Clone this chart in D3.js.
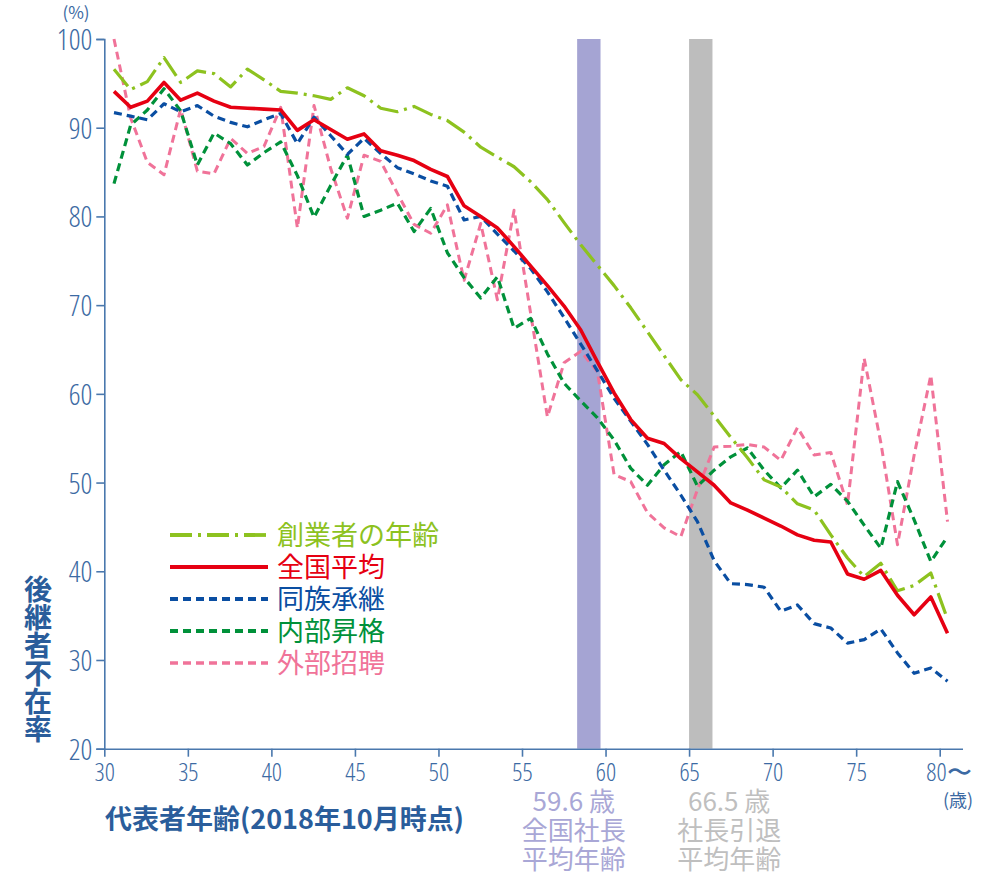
<!DOCTYPE html>
<html><head><meta charset="utf-8">
<script src="https://cdn.jsdelivr.net/npm/d3@7"></script>
<style>
html,body{margin:0;padding:0;background:#fff;}
svg{display:block;}
.num{font-family:"Open Sans","Liberation Sans Narrow",sans-serif;font-stretch:87%;font-weight:300;}
.cjk{font-family:"Noto Sans CJK JP","Noto Sans",sans-serif;}
</style></head>
<body>
<svg id="chart" width="1000" height="876"></svg>
<script>
// ---- data ----
const ages = [30,31,32,33,34,35,36,37,38,39,40,41,42,43,44,45,46,47,48,49,50,
  51,52,53,54,55,56,57,58,59,60,61,62,63,64,65,66,67,68,69,70,71,72,73,74,75,76,77,78,79,80];
const xTicks = [30,35,40,45,50,55,60,65,70,75,80];
const yTicks = [20,30,40,50,60,70,80,90,100];
const seriesNames = ["外部招聘","内部昇格","同族承継","創業者の年齢","全国平均"];
const founder = [96.6,94.3,95.2,97.9,95.1,96.4,96.1,94.6,96.6,95.4,94.1,93.9,93.6,93.2,94.5,93.6,92.2,91.8,92.4,91.5,90.8,
  89.5,87.8,86.7,85.6,83.9,81.9,79.3,76.8,74.5,72.2,69.7,67.0,64.3,61.6,59.9,57.5,55.1,52.8,50.3,49.5,
  47.6,46.9,44.1,41.5,39.4,40.9,37.8,38.4,39.8,34.6];
const national = [94.1,92.3,93.0,95.1,93.1,93.9,93.0,92.3,92.2,92.1,92.0,89.7,90.9,89.8,88.7,89.3,87.4,86.9,86.3,85.3,84.5,
  81.2,80.0,78.7,76.6,74.4,72.2,69.9,67.2,63.6,60.1,57.1,55.0,54.4,52.7,51.2,49.7,47.7,46.9,46.0,45.1,
  44.1,43.5,43.3,39.7,39.1,40.1,37.3,35.1,37.1,33.0];
const family = [91.7,91.3,90.9,92.7,91.8,92.5,91.3,90.6,90.1,90.9,91.6,88.2,91.2,89.1,87.0,88.8,87.1,85.5,84.8,84.0,83.4,
  79.6,80.0,78.0,76.1,74.1,71.5,68.6,65.6,62.6,59.5,56.9,54.3,51.4,48.6,45.6,41.2,38.6,38.5,38.2,35.5,
  36.2,34.1,33.6,31.9,32.3,33.5,30.8,28.5,29.1,27.6];
const internal = [83.7,90.3,92.0,94.4,91.9,85.8,89.4,88.2,85.8,87.2,88.4,84.6,79.9,83.5,86.9,80.0,80.7,81.5,78.3,80.9,75.9,
  73.1,70.8,73.2,67.4,68.5,64.5,61.2,59.2,57.3,54.8,51.6,49.7,52.0,53.5,49.6,51.4,52.9,53.9,51.4,49.4,
  51.4,48.4,49.8,47.9,45.2,42.6,50.1,45.8,41.1,43.9];
const external = [100,91.1,86.1,84.7,92.1,85.1,84.8,88.8,87.1,87.9,92.3,78.7,92.5,85.4,79.8,86.9,86.2,82.6,79.1,78.1,81.3,
  72.8,79.2,70.6,80.7,69.0,57.4,63.5,64.8,62.5,50.9,50.1,46.6,44.9,43.9,49.2,54.0,54.1,54.3,54.0,52.5,
  56.2,53.1,53.4,47.5,64.0,54.5,43.0,53.1,62.1,45.6];
const bandRanges = [[58.3,59.7],[65.0,66.4]];
const bandLabels = [["59.6 歳","全国社長","平均年齢"],["66.5 歳","社長引退","平均年齢"]];
const bandLabelAt = [58.1,67.4];
const legendOrder = ["創業者の年齢","全国平均","同族承継","内部昇格","外部招聘"];

// ---- styles ----
const style = {
  "創業者の年齢": {color:"#8dc21f", w:3.2, dash:"22,6,3,6"},
  "全国平均":     {color:"#e60012", w:3.6, dash:null},
  "同族承継":     {color:"#0a4ea2", w:3.2, dash:"8,5"},
  "内部昇格":     {color:"#00913a", w:3.2, dash:"8,5"},
  "外部招聘":     {color:"#f07399", w:3.0, dash:"8,5"}
};
const values = {"創業者の年齢":founder,"全国平均":national,"同族承継":family,"内部昇格":internal,"外部招聘":external};
const axisColor = "#4a78ad", labelColor = "#3c6aa3", titleColor = "#2a5d9b";
const bandColors = ["#a5a4d3","#bdbdbd"], bandTextColors = ["#a9a7d6","#bfbfbf"];

const svg = d3.select("#chart");
const x = d3.scaleLinear().domain([30,80]).range([104.3,939.7]);
const xp = d3.scalePoint().domain(ages).range([114,947.5]);
const y = d3.scaleLinear().domain([20,100]).range([748.7,39]);

// bands
svg.append("g").selectAll("rect").data(bandRanges).join("rect")
  .attr("x", d=>x(d[0])).attr("width", d=>x(d[1])-x(d[0]))
  .attr("y", y(100)).attr("height", y(20)-y(100))
  .attr("fill", (d,i)=>bandColors[i]);

// axes
const yAxis = svg.append("g").attr("transform",`translate(${x(30)},0)`)
  .call(d3.axisLeft(y).tickValues(yTicks).tickSize(8).tickPadding(4).tickFormat(d3.format("d")));
const xAxis = svg.append("g").attr("transform",`translate(0,${y(20)})`)
  .call(d3.axisBottom(x).tickValues(xTicks).tickSize(8).tickPadding(7).tickFormat(d=>d===80?"80〜":d));
[yAxis,xAxis].forEach(g=>{
  g.attr("font-family",null).attr("font-size",null);
  g.select(".domain").attr("stroke",axisColor).attr("stroke-width",1.6);
  g.selectAll(".tick line").attr("stroke",axisColor).attr("stroke-width",1.6);
  g.selectAll("text").attr("fill",labelColor).attr("class","num");
});
xAxis.select(".domain").attr("d",`M${x(30)},0.5H963`);
yAxis.selectAll("text").attr("font-size",29).attr("dy","0.36em");
xAxis.selectAll("text").attr("font-size",25);
xAxis.selectAll(".tick").filter(d=>d===80).select("text").attr("text-anchor","start").attr("x",-14);

// lines
const line = d3.line().x((d,i)=>xp(ages[i])).y(d=>y(d));
seriesNames.forEach(n=>{
  svg.append("path").datum(values[n]).attr("d",line)
    .attr("fill","none").attr("stroke",style[n].color).attr("stroke-width",style[n].w)
    .attr("stroke-linejoin","round")
    .attr("stroke-dasharray",style[n].dash);
});

// legend
const lg = svg.append("g");
legendOrder.forEach((n,i)=>{
  const ly = 535 + i*32;
  lg.append("line").attr("x1",170).attr("x2",268).attr("y1",ly).attr("y2",ly)
    .attr("stroke",style[n].color).attr("stroke-width",style[n].w+0.6).attr("stroke-dasharray",style[n].dash);
  lg.append("text").attr("class","cjk").attr("x",277).attr("y",ly).attr("dy","0.36em")
    .attr("font-size",27).attr("fill",style[n].color).text(n);
});

// titles
svg.append("text").attr("class","cjk").attr("x",76).attr("y",19).attr("text-anchor","middle")
  .attr("font-size",17).attr("fill",labelColor).text("(%)");
svg.append("text").attr("class","cjk").attr("x",38).attr("y",575)
  .attr("font-size",28).attr("font-weight","bold").attr("fill",titleColor)
  .style("writing-mode","vertical-rl").style("text-orientation","upright")
  .text("後継者不在率");
svg.append("text").attr("class","cjk").attr("x",105).attr("y",829)
  .attr("font-size",27).attr("font-weight","bold").attr("fill",titleColor)
  .text("代表者年齢(2018年10月時点)");
svg.append("text").attr("class","cjk").attr("x",958).attr("y",807).attr("text-anchor","middle")
  .attr("font-size",18).attr("fill",labelColor).text("(歳)");

// band annotations
bandLabels.forEach((lines,i)=>{
  const t = svg.append("text").attr("class","cjk").attr("text-anchor","middle")
    .attr("fill",bandTextColors[i]).attr("font-size",26);
  lines.forEach((s,j)=>{
    t.append("tspan").attr("x",x(bandLabelAt[i])).attr("y",811+j*29).text(s);
  });
});
</script>
</body></html>
